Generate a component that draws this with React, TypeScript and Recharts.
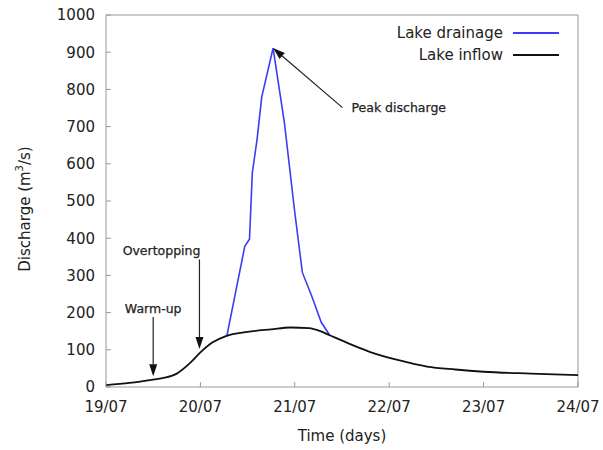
import {
  LineChart,
  Line,
  XAxis,
  YAxis,
  ReferenceLine,
  ReferenceArea,
  Legend,
} from "recharts";

const FONT = "'DejaVu Sans', Verdana, sans-serif";

// days since 19/07 00:00
const dayTicks = [0, 1, 2, 3, 4, 5];
const dayLabels = ["19/07", "20/07", "21/07", "22/07", "23/07", "24/07"];
const dischargeTicks = [0, 100, 200, 300, 400, 500, 600, 700, 800, 900, 1000];

const inflowDays = [0, 0.25, 0.5, 0.62, 0.75, 0.88, 1.0, 1.13, 1.27, 1.5, 1.75, 1.95, 2.15, 2.27, 2.37, 2.6, 2.8, 3.1, 3.4, 3.7, 4.0, 4.5, 5.0];
const inflowValues = [5, 11, 20, 25, 36, 62, 93, 120, 137, 148, 155, 160, 158, 150, 139, 114, 94, 72, 55, 47, 41, 36, 32];

const drainageDays = [1.28, 1.47, 1.52, 1.55, 1.6, 1.65, 1.77, 1.89, 2.0, 2.08, 2.18, 2.28, 2.37];
const drainageValues = [137, 378, 397, 576, 665, 780, 911, 710, 469, 308, 244, 174, 139];

const inflow = inflowDays.map((day, i) => ({ day, q: inflowValues[i] }));
const drainage = drainageDays.map((day, i) => ({ day, q: drainageValues[i] }));

// annotation arrows: tail -> head, in data units
const notes = [
  { text: "Peak discharge", from: { x: 2.505, y: 751 }, to: { x: 1.77, y: 911 }, anchor: "start", dx: 9, dy: 4 },
  { text: "Overtopping", from: { x: 0.99, y: 343 }, to: { x: 0.99, y: 102 }, anchor: "end", dx: 1, dy: -4 },
  { text: "Warm-up", from: { x: 0.5, y: 188 }, to: { x: 0.5, y: 29 }, anchor: "middle", dx: 0, dy: -4 },
];

function arrowShape(text: string, anchor: string, dx: number, dy: number) {
  return (p: any) => {
    const { x1, y1, x2, y2 } = p;
    const ang = Math.atan2(y2 - y1, x2 - x1);
    const len = 12;
    const half = 4;
    const bx = x2 - len * Math.cos(ang);
    const by = y2 - len * Math.sin(ang);
    const pts = `${x2},${y2} ${bx - half * Math.sin(ang)},${by + half * Math.cos(ang)} ${bx + half * Math.sin(ang)},${by - half * Math.cos(ang)}`;
    return (
      <g>
        <line x1={x1} y1={y1} x2={bx} y2={by} stroke="#222" strokeWidth={1.2} />
        <polygon points={pts} fill="#111" />
        <text
          x={x1 + dx}
          y={y1 + dy}
          textAnchor={anchor as any}
          fontFamily={FONT}
          fontSize={12.5}
          fill="#222"
          stroke="#222"
          strokeWidth={0.25}
        >
          {text}
        </text>
      </g>
    );
  };
}

const XTick = (props: any) => {
  const { x, y, payload } = props;
  const i = dayTicks.indexOf(payload.value);
  return (
    <g>
      <line x1={x} x2={x} y1={y} y2={y - 5} stroke="#999" />
      <text x={x} y={y + 25} textAnchor="middle" fontFamily={FONT} fontSize={15} fill="#222">
        {dayLabels[i]}
      </text>
    </g>
  );
};

const YTick = (props: any) => {
  const { x, y, payload } = props;
  return (
    <g>
      <line x1={x} x2={x + 5} y1={y} y2={y} stroke="#999" />
      <text x={x - 11} y={y} dy="0.36em" textAnchor="end" fontFamily={FONT} fontSize={15} fill="#222">
        {payload.value}
      </text>
    </g>
  );
};

const YLabel = (props: any) => {
  const vb = props.viewBox || { x: 0, y: 15, width: 106, height: 372 };
  const cx = vb.x + 25;
  const cy = vb.y + vb.height / 2 + 8;
  return (
    <text
      x={cx}
      y={cy}
      transform={`rotate(-90 ${cx} ${cy})`}
      textAnchor="middle"
      dominantBaseline="central"
      fontFamily={FONT}
      fontSize={15}
      fill="#222"
    >
      Discharge (m
      <tspan fontSize={10} dy={-6}>3</tspan>
      <tspan dy={6}>/s)</tspan>
    </text>
  );
};

const XLabel = (props: any) => {
  const vb = props.viewBox || { x: 106, y: 387, width: 472, height: 63 };
  return (
    <text
      x={vb.x + vb.width / 2}
      y={vb.y + 54}
      textAnchor="middle"
      fontFamily={FONT}
      fontSize={15}
      fill="#222"
    >
      Time (days)
    </text>
  );
};

const LegendBox = (props: any) => {
  const items = props.payload || [];
  return (
    <div style={{ fontFamily: FONT, fontSize: 15, color: "#222" }}>
      {items.map((it: any) => (
        <div
          key={it.value}
          style={{ display: "flex", justifyContent: "flex-end", alignItems: "center", height: 22 }}
        >
          <span style={{ lineHeight: "22px" }}>{it.value}</span>
          <svg width={57} height={22}>
            <line x1={10} x2={56} y1={11} y2={11} stroke={it.color} strokeWidth={2} />
          </svg>
        </div>
      ))}
    </div>
  );
};

export default function App() {
  return (
    <div style={{ position: "absolute", left: 0, top: 0, width: 603, height: 450, background: "#fff" }}>
      <LineChart width={603} height={450} margin={{ top: 15, right: 25, bottom: 0, left: 0 }}>
        <ReferenceArea x1={0} x2={5} y1={0} y2={1000} fill="none" stroke="#999" strokeWidth={1} />
        <XAxis
          dataKey="day"
          type="number"
          domain={[0, 5]}
          ticks={dayTicks}
          allowDataOverflow
          height={63}
          axisLine={false}
          tickLine={false}
          tickSize={0}
          tickMargin={0}
          tick={<XTick />}
          label={{ content: <XLabel /> } as any}
        />
        <YAxis
          type="number"
          domain={[0, 1000]}
          ticks={dischargeTicks}
          width={106}
          axisLine={false}
          tickLine={false}
          tickSize={0}
          tickMargin={0}
          tick={<YTick />}
          label={{ content: <YLabel /> } as any}
        />
        <Line
          data={drainage}
          dataKey="q"
          name="Lake drainage"
          type="linear"
          stroke="#3c3cf5"
          strokeWidth={1.6}
          dot={false}
          isAnimationActive={false}
        />
        <Line
          data={inflow}
          dataKey="q"
          name="Lake inflow"
          type="monotone"
          stroke="#111"
          strokeWidth={1.8}
          dot={false}
          isAnimationActive={false}
        />
        {notes.map((n) => (
          <ReferenceLine
            key={n.text}
            segment={[n.from, n.to]}
            shape={arrowShape(n.text, n.anchor, n.dx, n.dy)}
          />
        ))}
        <Legend
          layout="vertical"
          align="center"
          verticalAlign="middle"
          content={<LegendBox />}
          wrapperStyle={{ position: "absolute", left: 380, top: 22, width: 180, height: 44 }}
        />
      </LineChart>
    </div>
  );
}
